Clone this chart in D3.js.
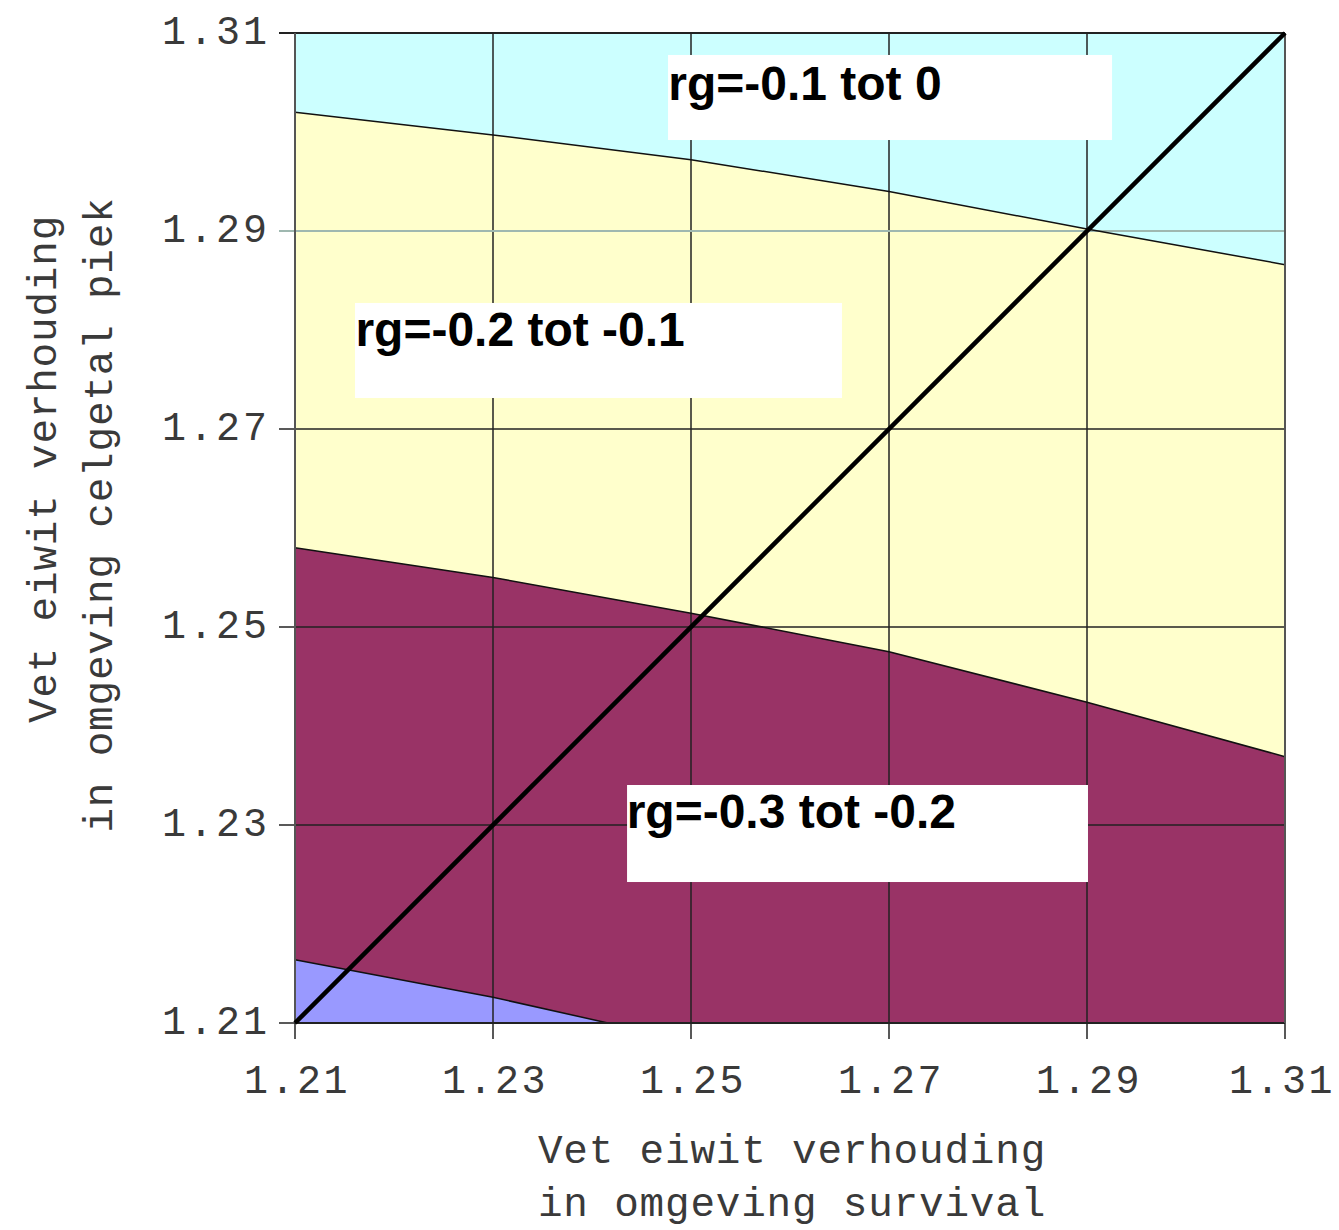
<!DOCTYPE html>
<html><head><meta charset="utf-8">
<script src="https://cdn.jsdelivr.net/npm/d3@7"></script>
<style>body{margin:0;background:#fff}</style>
</head><body>
<svg id="c" width="1339" height="1230"></svg>
<script>
const ticks = [1.21,1.23,1.25,1.27,1.29,1.31];
const boundaryX = [1.21,1.23,1.25,1.27,1.29,1.31];
const upperBoundary = [1.3020,1.2997,1.2972,1.2940,1.2902,1.2866];
const middleBoundary = [1.2580,1.2550,1.2514,1.2475,1.2424,1.2369];
const lowerBoundaryX = [1.21,1.23,1.2416];
const lowerBoundaryY = [1.2164,1.2126,1.21];
const regionLabels = ["rg=-0.1 tot 0","rg=-0.2 tot -0.1","rg=-0.3 tot -0.2"];
// [x, baseline y] in data units
const labelPos = [[1.2477,1.30323],[1.2161,1.27838],[1.2435,1.22970]];
// [x0, x1, yTop, yBottom] in data units
const labelBox = [[1.24768,1.29253,1.30778,1.29919],[1.21606,1.26525,1.28273,1.27313],[1.24354,1.29010,1.23404,1.22424]];
const colors = {cyan:"#ccffff", yellow:"#ffffcc", maroon:"#993366", blue:"#9999ff"};

const svg = d3.select("#c");
const x = d3.scaleLinear().domain([1.21,1.31]).range([295,1285]);
const y = d3.scaleLinear().domain([1.21,1.31]).range([1023,33]);

const upper = boundaryX.map((v,i)=>[v,upperBoundary[i]]);
const middle = boundaryX.map((v,i)=>[v,middleBoundary[i]]);
const lower = lowerBoundaryX.map((v,i)=>[v,lowerBoundaryY[i]]);
const line = d3.line().x(d=>x(d[0])).y(d=>y(d[1]));

// regions
svg.append("rect").attr("x",x(1.21)).attr("y",y(1.31)).attr("width",x(1.31)-x(1.21)).attr("height",y(1.21)-y(1.31)).attr("fill",colors.cyan);
svg.append("path").attr("d", line([...upper, [1.31,1.21],[1.21,1.21]])+"Z").attr("fill",colors.yellow);
svg.append("path").attr("d", line([...middle, [1.31,1.21],[1.21,1.21]])+"Z").attr("fill",colors.maroon);
svg.append("path").attr("d", line([...lower, [1.21,1.21]])+"Z").attr("fill",colors.blue);

// grid
ticks.forEach(t=>{
  svg.append("line").attr("x1",x(t)).attr("x2",x(t)).attr("y1",y(1.31)).attr("y2",y(1.21)+16)
    .attr("stroke","#222").attr("stroke-width",1.5);
  svg.append("line").attr("y1",y(t)).attr("y2",y(t)).attr("x1",x(1.21)-16).attr("x2",x(1.31))
    .attr("stroke", t===1.29 ? "#9fb8b0" : "#222").attr("stroke-width", t===1.29?2:1.5);
});

// boundaries
[upper, middle, lower].forEach(b=>svg.append("path").attr("d",line(b)).attr("fill","none").attr("stroke","#111").attr("stroke-width",1.5));

// frame edges
svg.append("line").attr("x1",x(1.21)).attr("x2",x(1.31)).attr("y1",y(1.21)).attr("y2",y(1.21)).attr("stroke","#222").attr("stroke-width",2);
svg.append("line").attr("x1",x(1.21)-16).attr("x2",x(1.31)).attr("y1",y(1.31)).attr("y2",y(1.31)).attr("stroke","#222").attr("stroke-width",2);
svg.append("line").attr("x1",x(1.21)).attr("x2",x(1.21)).attr("y1",y(1.31)).attr("y2",y(1.21)).attr("stroke","#555").attr("stroke-width",2);
svg.append("line").attr("x1",x(1.31)).attr("x2",x(1.31)).attr("y1",y(1.31)).attr("y2",y(1.21)).attr("stroke","#555").attr("stroke-width",2);

// diagonal
svg.append("line").attr("x1",x(1.21)).attr("y1",y(1.21)).attr("x2",x(1.31)).attr("y2",y(1.31))
  .attr("stroke","#000").attr("stroke-width",4.5);

// label boxes
labelBox.forEach((b,i)=>{
  svg.append("rect").attr("x",x(b[0])).attr("y",y(b[2])).attr("width",x(b[1])-x(b[0])).attr("height",y(b[3])-y(b[2])).attr("fill","#fff");
  svg.append("text").attr("x",x(labelPos[i][0])).attr("y",y(labelPos[i][1]))
    .attr("font-family","Liberation Sans, Arial, sans-serif").attr("font-weight","bold").attr("font-size",48)
    .attr("fill","#000").text(regionLabels[i]);
});

// tick labels
const mono = "Liberation Mono, DejaVu Sans Mono, monospace";
ticks.forEach(t=>{
  svg.append("text").attr("x",270).attr("y",y(t)+11).attr("text-anchor","end")
    .attr("font-family",mono).attr("font-size",40).attr("letter-spacing",3).attr("fill","#3a3a3a").text(t.toFixed(2));
  svg.append("text").attr("x",Math.min(x(t)+2, 1334-52)).attr("y",1093).attr("text-anchor","middle")
    .attr("font-family",mono).attr("font-size",40).attr("letter-spacing",2.5).attr("fill","#3a3a3a").text(t.toFixed(2));
});

// axis titles
const title = (sel)=>sel.attr("text-anchor","middle").attr("font-family",mono).attr("font-size",41).attr("letter-spacing",0.8).attr("fill","#3a3a3a");
svg.append("text").attr("x",792).attr("y",1163).call(title).text("Vet eiwit verhouding");
svg.append("text").attr("x",792).attr("y",1216).call(title).text("in omgeving survival");
svg.append("text").attr("transform","translate(56,469) rotate(-90)").call(title).text("Vet eiwit verhouding");
svg.append("text").attr("transform","translate(112,515) rotate(-90)").call(title).text("in omgeving celgetal piek");
</script>
</body></html>
